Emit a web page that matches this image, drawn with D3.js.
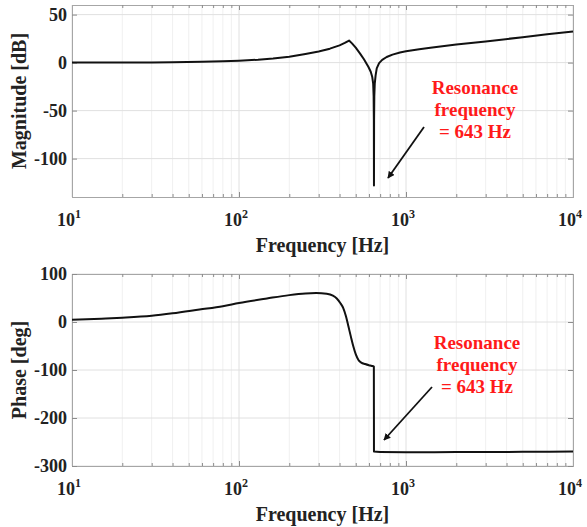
<!DOCTYPE html>
<html>
<head>
<meta charset="utf-8">
<script src="https://cdn.jsdelivr.net/npm/d3@7"></script>
<style>
  html, body { margin: 0; padding: 0; background: #fff; }
  svg text { font-family: "Liberation Serif", "Times New Roman", serif; font-weight: bold; }
</style>
</head>
<body>
<svg id="chart" width="587" height="527"></svg>
<script>
// ---------- data ----------
const magFreq = [10, 20, 30, 40, 60, 80, 100, 130, 160, 200, 250, 300, 350, 400, 430, 456, 475, 500, 531, 560, 596, 615, 628, 636, 640, 642, 643, 644, 646, 650, 658, 668, 690, 720, 766, 830, 920, 1000, 1200, 1400, 2000, 3000, 5000, 7000, 10000];
const magDb   = [0, 0.1, 0.2, 0.4, 0.8, 1.3, 2, 3, 4.3, 6.2, 9, 11.6, 14.5, 18, 20.5, 23, 20, 15.5, 9.4, 3.5, -4.6, -9.5, -15, -22, -35, -60, -128, -60, -35, -22, -13, -6, -0.5, 2.8, 5.8, 8.3, 10.5, 11.8, 13.8, 15.4, 18.8, 22, 26.5, 29.5, 32.5];

const phaseFreq = [10, 15, 20, 30, 40, 58, 80, 100, 147, 200, 250, 290, 335, 365, 385, 405, 421, 437, 452, 468, 484, 500, 519, 540, 569, 600, 624, 642, 643, 700, 1000, 2000, 5000, 10000];
const phaseDeg  = [4.5, 7, 9, 13, 18, 26, 33, 39.5, 49, 56, 59.5, 60.5, 59, 55, 49, 39, 29, 12, -9, -31, -51, -67, -79, -84.5, -87.5, -90, -91.5, -93, -270, -271, -271.5, -271, -270.5, -270];

const xTickValues = [10, 100, 1000, 10000];
const xTickExps = ["1", "2", "3", "4"];
const magTicks = [50, 0, -50, -100];
const phaseTicks = [100, 0, -100, -200, -300];
const magDomain = [-140, 60];
const phaseDomain = [-300, 100];
const xDomain = [10, 10000];

const annotationLines = ["Resonance", "frequency", "= 643 Hz"];

// ---------- layout ----------
const svg = d3.select("#chart");
const left = 72, right = 573;

const panels = [
  { top: 5, bottom: 197, domain: magDomain, ticks: magTicks, fx: magFreq, fy: magDb,
    ylabel: "Magnitude [dB]", curve: d3.curveLinear,
    ann: { x: 475, y: 87 }, arrow: { x1: 424, y1: 127, x2: 388, y2: 178 } },
  { top: 274, bottom: 466, domain: phaseDomain, ticks: phaseTicks, fx: phaseFreq, fy: phaseDeg,
    ylabel: "Phase [deg]", curve: d3.curveMonotoneX,
    ann: { x: 477, y: 342 }, arrow: { x1: 432, y1: 387, x2: 384, y2: 440 } }
];

const defs = svg.append("defs");
defs.append("marker")
  .attr("id", "arrowhead")
  .attr("viewBox", "0 0 10 10")
  .attr("refX", 9).attr("refY", 5)
  .attr("markerWidth", 7).attr("markerHeight", 7)
  .attr("markerUnits", "userSpaceOnUse")
  .attr("orient", "auto")
  .append("path").attr("d", "M0,0 L10,5 L0,10 z").attr("fill", "#111");

// minor tick values for log axis
const minorX = [];
for (let d = 10; d < 10000; d *= 10) for (let m = 2; m <= 9; m++) minorX.push(d * m);

panels.forEach(p => {
  const x = d3.scaleLog().domain(xDomain).range([left, right]);
  const y = d3.scaleLinear().domain(p.domain).range([p.bottom, p.top]);
  const g = svg.append("g");

  // minor vertical grid
  g.selectAll(".vminor").data(minorX).enter().append("line")
    .attr("x1", d => x(d)).attr("x2", d => x(d))
    .attr("y1", p.top).attr("y2", p.bottom)
    .attr("stroke", "#ececec").attr("stroke-width", 0.8);
  // major vertical grid
  g.selectAll(".vmajor").data(xTickValues).enter().append("line")
    .attr("x1", d => x(d)).attr("x2", d => x(d))
    .attr("y1", p.top).attr("y2", p.bottom)
    .attr("stroke", "#e0e0e0").attr("stroke-width", 1);
  // horizontal grid
  g.selectAll(".hgrid").data(p.ticks).enter().append("line")
    .attr("x1", left).attr("x2", right)
    .attr("y1", d => y(d)).attr("y2", d => y(d))
    .attr("stroke", "#e0e0e0").attr("stroke-width", 1);

  // axes via d3 (inward ticks)
  const axB = d3.axisBottom(x).tickValues(xTickValues).tickSize(-5).tickFormat("");
  const axT = d3.axisTop(x).tickValues(xTickValues).tickSize(-5).tickFormat("");
  const axL = d3.axisLeft(y).tickValues(p.ticks).tickSize(-5).tickFormat("");
  const axR = d3.axisRight(y).tickValues(p.ticks).tickSize(-5).tickFormat("");
  const axBm = d3.axisBottom(x).tickValues(minorX).tickSize(-3).tickFormat("");
  const axTm = d3.axisTop(x).tickValues(minorX).tickSize(-3).tickFormat("");
  [[axB, `translate(0,${p.bottom})`], [axT, `translate(0,${p.top})`],
   [axBm, `translate(0,${p.bottom})`], [axTm, `translate(0,${p.top})`],
   [axL, `translate(${left},0)`], [axR, `translate(${right},0)`]].forEach(([ax, tr]) => {
    const a = g.append("g").attr("transform", tr).call(ax);
    a.selectAll("path.domain").attr("stroke", "#a6a6a6");
    a.selectAll(".tick line").attr("stroke", "#8c8c8c");
  });

  // y tick labels
  g.selectAll(".ylab").data(p.ticks).enter().append("text")
    .attr("x", left - 5).attr("y", d => y(d)).attr("dy", "0.35em")
    .attr("text-anchor", "end").attr("font-size", 18).attr("fill", "#222")
    .text(d => d);

  // x tick labels 10^n
  const xl = g.selectAll(".xlab").data(xTickValues).enter().append("text")
    .attr("x", d => x(d) - 3).attr("y", p.bottom + 29)
    .attr("text-anchor", "middle").attr("font-size", 18).attr("fill", "#222");
  xl.append("tspan").text("10");
  xl.append("tspan").attr("font-size", 12).attr("dy", -8).text((d, i) => xTickExps[i]);

  // axis labels
  g.append("text").attr("x", (left + right) / 2).attr("y", p.bottom + 55)
    .attr("text-anchor", "middle").attr("font-size", 20).attr("fill", "#222")
    .text("Frequency [Hz]");
  g.append("text")
    .attr("transform", `translate(26,${(p.top + p.bottom) / 2}) rotate(-90)`)
    .attr("text-anchor", "middle").attr("font-size", 20).attr("fill", "#222")
    .text(p.ylabel);

  // curve
  const line = d3.line().x((d, i) => x(p.fx[i])).y(d => y(d)).curve(p.curve);
  g.append("path").datum(p.fy).attr("d", line)
    .attr("fill", "none").attr("stroke", "#111").attr("stroke-width", 2)
    .attr("stroke-linejoin", "round");

  // annotation
  g.selectAll(".ann").data(annotationLines).enter().append("text")
    .attr("x", p.ann.x).attr("y", (d, i) => p.ann.y + i * 22).attr("dy", "0.35em")
    .attr("text-anchor", "middle").attr("font-size", 19).attr("fill", "#ff1a1a")
    .text(d => d);
  g.append("line")
    .attr("x1", p.arrow.x1).attr("y1", p.arrow.y1)
    .attr("x2", p.arrow.x2).attr("y2", p.arrow.y2)
    .attr("stroke", "#111").attr("stroke-width", 1.8)
    .attr("marker-end", "url(#arrowhead)");
});
</script>
</body>
</html>
